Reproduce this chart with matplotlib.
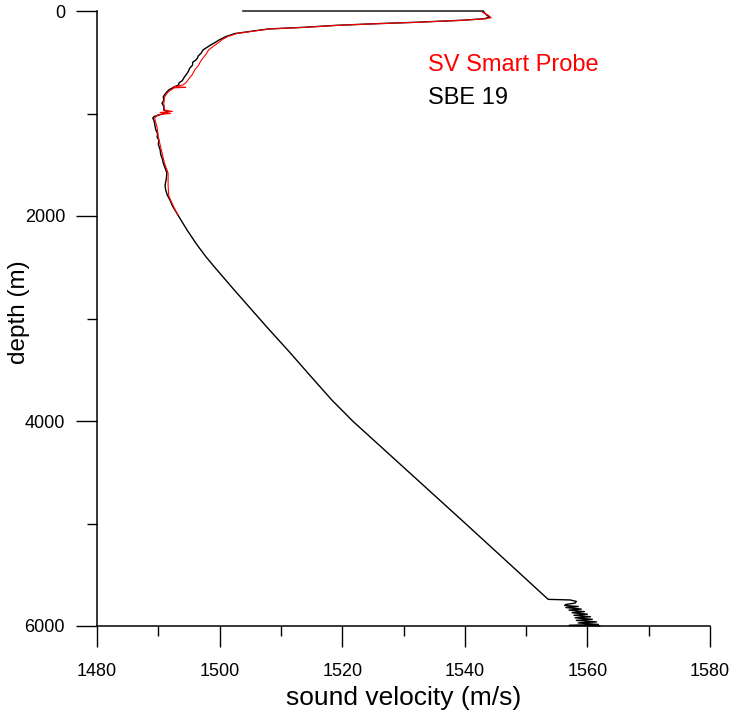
import matplotlib
matplotlib.use("Agg")
import matplotlib.pyplot as plt
from matplotlib.ticker import MultipleLocator

# SBE 19 profile (black)
sbe_depth = [0, 0, 30, 60, 75, 90, 110, 125, 140, 160, 175, 195, 220, 250, 280, 302, 330, 360, 380, 410,
             440, 458, 480, 500, 527, 560, 590, 624, 650, 680, 700, 722, 740, 751, 770, 790, 810, 839, 870,
             900, 930, 966, 985, 995, 1010, 1030, 1044, 1070, 1100, 1132, 1160, 1200, 1229, 1260, 1300,
             1356, 1400, 1450, 1483, 1530, 1580, 1640, 1700, 1746, 1800, 1844, 1900, 1971, 2050, 2137,
             2200, 2280, 2400, 2500, 2702, 3083, 3327, 3532, 3795, 4000, 4500, 5000, 5356, 5740, 5746,
             5760, 5776, 5790, 5800, 5810, 5820, 5835, 5845, 5860, 5870, 5885, 5895, 5910, 5920, 5935,
             5945, 5960, 5970, 5985, 5995, 5998]
sbe_vel = [1503.8, 1543.0, 1543.4, 1544.0, 1543.2, 1539.7, 1532.0, 1525.0, 1519.0, 1513.5, 1508.0, 1505.5,
           1502.5, 1501.0, 1500.0, 1499.4, 1498.6, 1497.8, 1497.3, 1497.0, 1496.5, 1496.4, 1496.1, 1495.6,
           1495.6, 1495.1, 1494.9, 1494.5, 1494.2, 1493.9, 1493.4, 1493.3, 1492.6, 1492.3, 1491.7, 1491.4,
           1491.1, 1490.8, 1490.9, 1490.6, 1490.9, 1490.9, 1491.6, 1491.2, 1490.4, 1489.3, 1489.1, 1489.3,
           1489.4, 1489.5, 1489.6, 1489.9, 1489.8, 1490.1, 1490.0, 1490.3, 1490.4, 1490.7, 1490.8, 1491.1,
           1491.4, 1491.3, 1491.1, 1491.2, 1491.5, 1491.9, 1492.3, 1493.0, 1493.8, 1494.7, 1495.4, 1496.3,
           1497.8, 1499.2, 1502.1, 1507.7, 1511.4, 1514.4, 1518.3, 1521.7, 1530.9, 1540.1, 1546.6, 1553.6,
           1557.2, 1558.2, 1558.0, 1556.5, 1556.3, 1558.5, 1556.5, 1559.0, 1557.0, 1559.5, 1557.5, 1560.0,
           1557.8, 1560.5, 1558.0, 1560.8, 1558.2, 1561.5, 1558.5, 1561.8, 1557.0, 1562.0]

# SV Smart Probe profile (red), upper 2000 m only
svp_depth = [10, 40, 65, 75, 90, 110, 125, 140, 160, 175, 195, 220, 250, 280, 302, 330, 380, 420, 458, 490,
             527, 570, 624, 660, 700, 722, 735, 740, 745, 750, 790, 839, 900, 966, 980, 990, 1000, 1010,
             1044, 1090, 1132, 1229, 1356, 1483, 1580, 1640, 1700, 1800, 1844, 1920, 1990]
svp_vel = [1542.8, 1543.8, 1544.3, 1543.5, 1539.8, 1532.2, 1525.2, 1519.2, 1513.6, 1508.2, 1505.7, 1502.8,
           1501.3, 1500.4, 1500.0, 1499.3, 1498.2, 1497.8, 1497.3, 1496.9, 1496.6, 1496.0, 1495.5, 1495.0,
           1494.5, 1494.0, 1493.0, 1492.5, 1494.5, 1492.6, 1491.6, 1491.0, 1490.9, 1491.0, 1492.3, 1490.3,
           1492.0, 1490.0, 1489.4, 1489.6, 1489.8, 1490.0, 1490.5, 1491.0, 1491.6, 1491.6, 1491.6, 1491.7,
           1492.0, 1492.6, 1493.2]

legend_labels = ["SV Smart Probe", "SBE 19"]

plt.rcParams["font.family"] = ["Liberation Sans", "DejaVu Sans"]

fig = plt.figure(figsize=(7.32, 7.2), dpi=100)
ax = fig.add_axes([97 / 732, 94 / 720, 613 / 732, 615 / 720])

ax.plot(sbe_vel, sbe_depth, color="black", lw=1.0, clip_on=False)
ax.plot(svp_vel, svp_depth, color="red", lw=0.8, clip_on=False)

ax.set_xlim(1480, 1580)
ax.set_ylim(6000, 0)
ax.xaxis.set_major_locator(MultipleLocator(20))
ax.xaxis.set_minor_locator(MultipleLocator(10))
ax.yaxis.set_major_locator(MultipleLocator(2000))
ax.yaxis.set_minor_locator(MultipleLocator(1000))

for side in ["top", "right"]:
    ax.spines[side].set_visible(False)
for side in ["left", "bottom"]:
    ax.spines[side].set_linewidth(1.1)

ax.tick_params(which="major", direction="out", length=15, width=1.0, labelsize=13, pad=8)
ax.tick_params(which="minor", direction="out", length=7.5, width=1.0)
ax.tick_params(axis="x", which="major", pad=12)

ax.set_xlabel("sound velocity (m/s)", fontsize=19, labelpad=4)
ax.set_ylabel("depth (m)", fontsize=17.5)
ax.yaxis.set_label_coords(-0.109, 0.51)

ax.text(0.54, 0.912, legend_labels[0], transform=ax.transAxes, color="red",
        fontsize=17, va="center", ha="left")
ax.text(0.54, 0.859, legend_labels[1], transform=ax.transAxes, color="black",
        fontsize=17, va="center", ha="left")

fig.savefig("out.png", dpi=100)
